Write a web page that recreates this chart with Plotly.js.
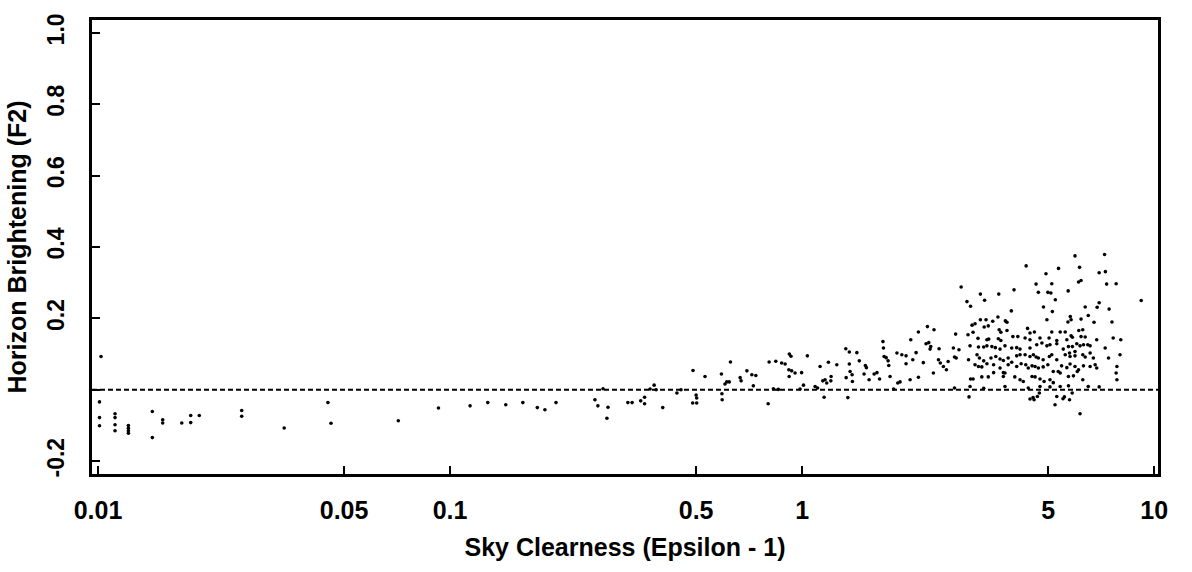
<!DOCTYPE html>
<html><head><meta charset="utf-8">
<script src="https://cdn.plot.ly/plotly-3.0.1.min.js"></script>
<style>html,body{margin:0;padding:0;background:#fff}#chart{width:1192px;height:572px}</style>
</head><body><div id="chart"></div>
<script>
// Axis ticks
const xTickVals = [0.01, 0.05, 0.1, 0.5, 1, 5, 10];
const xTickText = ["0.01", "0.05", "0.1", "0.5", "1", "5", "10"];
const yTickVals = [-0.2, 0, 0.2, 0.4, 0.6, 0.8, 1.0];
const yTickText = ["-0.2", "", "0.2", "0.4", "0.6", "0.8", "1.0"];
const referenceLevel = 0;

// Very turbid skies (epsilon-1 < 0.1)
const lowX = [0.0102,0.0101,0.0101,0.0101, 0.01118,0.01118,0.01118,0.01118, 0.0122,0.0122,0.0122,0.0122, 0.01427,0.01427, 0.01527,0.01527, 0.0173, 0.01834,0.01834, 0.0194, 0.0256,0.0256, 0.0338, 0.045, 0.0459, 0.0713, 0.0927];
const lowY = [0.093,-0.034,-0.078,-0.101, -0.067,-0.078,-0.098,-0.115, -0.100,-0.108,-0.115,-0.122, -0.061,-0.134, -0.084,-0.093, -0.093, -0.072,-0.092, -0.072, -0.058,-0.074, -0.107, -0.036, -0.094, -0.087, -0.051];

// 0.1 .. 1
const midX = [0.114,0.128,0.144,0.161,0.177,0.186,0.200,0.258,0.263,
  0.272,0.281,0.279,0.320,0.329,0.348,0.357,0.357,0.380,0.370,0.385,0.402,0.441,0.453,0.490,0.500,0.502,0.489,0.502,0.530,0.590,0.592,0.593,0.604,0.611,0.626,0.621,0.667,0.671,0.697,0.720,0.739,0.727,0.801,0.806,0.842,0.875,0.895,0.920,0.930,0.917,0.934,0.955,0.919,0.829,0.856,0.987];
const midY = [-0.045,-0.036,-0.042,-0.036,-0.050,-0.056,-0.036,-0.028,-0.045,
  0.003,-0.049,-0.080,-0.036,-0.036,-0.031,-0.039,-0.021,0.013,0.002,0.000,-0.050,-0.009,0.000,0.054,-0.015,-0.023,-0.037,-0.037,0.037,0.044,-0.011,-0.028,0.016,0.022,0.078,0.022,0.034,0.025,0.053,0.042,0.040,0.011,-0.039,0.078,0.080,0.075,0.072,0.100,0.094,0.056,0.053,0.047,0.037,0.003,0.001,0.002];

// 1 .. 2.7
const brightX = [0.997,1.009,1.035,1.089,1.107,1.125,1.155,1.145,1.162,1.175,1.209,1.207,1.188,1.255,1.331,1.362,1.334,1.349,1.362,1.369,1.387,1.390,1.431,1.454,1.513,1.523,1.500,1.550,1.602,1.632,1.660,1.697,1.703,1.710,1.733,1.755,1.763,1.778,1.82,1.86,1.92,1.974,1.87,1.898,1.974,2.027,2.036,2.063,2.108,2.14,2.14,2.21,2.25,2.29,2.32,2.31,2.27,2.37,2.36,2.44,2.47,2.52,2.57,2.45,2.60];
const brightY = [0.048,0.013,0.095,0.009,0.005,0.065,-0.021,0.025,0.028,0.019,0.037,0.025,0.077,0.070,0.115,0.106,0.034,-0.022,0.072,0.051,0.042,0.023,0.104,0.081,0.068,0.062,0.044,0.028,0.044,0.048,0.030,0.135,0.117,0.093,0.090,0.081,0.068,0.037,0.002,0.103,0.098,0.095,0.019,0.022,0.073,0.028,0.140,0.084,0.104,0.162,0.035,0.076,0.129,0.132,0.121,0.114,0.177,0.168,0.047,0.084,0.075,0.065,0.056,0.115,0.079];

// Clear skies (epsilon-1 > 2.7), upper part
const clearTopX = [5.96,7.23,4.33,6.14,5.35,4.93,6.98,7.27,6.10,6.20,4.62,5.12,7.33,7.80,2.83,5.70,4.00,4.69,4.99,5.09,3.21,3.62,5.24,9.19,2.94,3.30,6.98,6.89,3.01,4.85,6.37,5.78,3.93,7.45,5.14,3.21,3.33,3.48,3.60,3.78,3.82,4.96,5.69,5.81,6.20,6.50,6.75,7.59,3.04,3.10,3.29,3.38,2.73,2.96,3.06,3.63,3.67,4.37,4.44,4.57,3.82,5.12,5.41,5.59,5.81,6.11,6.27];
const clearTopY = [0.375,0.379,0.347,0.343,0.340,0.325,0.328,0.331,0.302,0.306,0.296,0.297,0.296,0.297,0.288,0.277,0.280,0.273,0.273,0.271,0.268,0.268,0.252,0.250,0.247,0.251,0.244,0.231,0.234,0.232,0.232,0.205,0.221,0.226,0.219,0.196,0.196,0.192,0.204,0.193,0.189,0.196,0.190,0.196,0.198,0.208,0.189,0.190,0.181,0.185,0.176,0.179,0.156,0.154,0.161,0.168,0.161,0.172,0.159,0.162,0.166,0.162,0.162,0.162,0.151,0.166,0.168];

// Clear skies, dense band
const clearMidX = [3.16,3.35,3.39,3.61,3.67,3.97,4.10,4.30,4.44,4.74,5.03,5.29,5.65,5.86,6.20,6.37,6.87,7.65,8.04,
  2.69,2.79,3.00,3.17,3.28,3.35,3.46,3.54,3.65,3.77,3.94,4.07,4.16,4.44,4.64,4.80,4.96,5.06,5.29,5.52,5.71,5.86,6.03,6.16,6.30,6.48,6.58,7.26,5.96,
  2.71,2.74,2.97,3.14,3.19,3.28,3.44,3.55,3.65,3.73,3.85,4.07,4.16,4.30,4.44,4.54,4.62,4.69,4.84,5.04,5.12,5.29,5.59,5.75,5.77,5.96,6.27,6.37,6.58,6.72,7.42,8.00];
const clearMidY = [0.144,0.140,0.142,0.143,0.138,0.149,0.149,0.145,0.140,0.145,0.145,0.138,0.140,0.147,0.149,0.148,0.140,0.145,0.140,
  0.117,0.112,0.123,0.120,0.120,0.123,0.121,0.118,0.114,0.123,0.117,0.118,0.114,0.117,0.126,0.131,0.123,0.126,0.129,0.114,0.121,0.121,0.129,0.123,0.126,0.126,0.123,0.117,0.107,
  0.092,0.089,0.084,0.098,0.089,0.081,0.089,0.093,0.086,0.082,0.089,0.095,0.098,0.098,0.093,0.098,0.092,0.089,0.084,0.093,0.098,0.084,0.098,0.103,0.093,0.095,0.098,0.092,0.103,0.089,0.089,0.098];

// Clear skies, low band
const clearLowX = [3.10,3.17,3.24,3.35,3.50,3.65,3.73,3.85,3.94,4.07,4.19,4.32,4.39,4.50,4.59,4.69,4.84,4.99,5.17,5.34,5.46,5.65,5.77,5.96,6.10,6.30,6.58,6.80,6.87,7.84,
  3.01,3.06,3.24,3.38,3.50,3.73,3.77,4.02,4.16,4.25,4.50,4.59,4.74,4.87,5.06,5.17,5.41,5.71,5.90,6.05,6.27,7.80,7.84,
  2.71,3.00,3.28,3.77,4.39,4.74,5.06,5.41,5.71,6.50,6.98,
  2.98,4.44,4.56,4.66,4.72,5.29,5.56,5.75,5.23,6.16,4.53,5.51,5.85];
const clearLowY = [0.070,0.065,0.064,0.073,0.070,0.061,0.048,0.070,0.077,0.065,0.073,0.070,0.061,0.067,0.065,0.061,0.064,0.070,0.051,0.051,0.067,0.062,0.072,0.065,0.056,0.067,0.065,0.070,0.061,0.065,
  0.030,0.030,0.036,0.036,0.048,0.037,0.047,0.036,0.028,0.023,0.037,0.036,0.030,0.023,0.028,0.020,0.047,0.037,0.039,0.051,0.028,0.047,0.028,
  0.005,0.009,0.004,0.009,0.005,0.009,0.008,0.009,0.011,0.009,0.008,
  -0.020,-0.026,-0.028,-0.019,-0.009,-0.019,-0.020,-0.028,-0.042,-0.067,-0.022,-0.025,-0.009];

const groups = [[lowX, lowY], [midX, midY], [brightX, brightY], [clearTopX, clearTopY], [clearMidX, clearMidY], [clearLowX, clearLowY]];

const FONT = "Liberation Sans, Arial, Helvetica, sans-serif";
const traces = groups.map(g => ({
  x: g[0], y: g[1], type: 'scatter', mode: 'markers',
  marker: {color: '#000', size: 3.6},
  hoverinfo: 'x+y', showlegend: false
}));

const layout = {
  width: 1192, height: 572,
  margin: {l: 92, r: 34, t: 20, b: 98},
  paper_bgcolor: '#fff', plot_bgcolor: '#fff',
  showlegend: false,
  font: {family: FONT, color: '#000'},
  xaxis: {
    type: 'log', range: [-2.017, 1.011],
    tickmode: 'array', tickvals: xTickVals, ticktext: xTickText,
    ticks: 'inside', ticklen: 8, tickwidth: 2, tickcolor: '#000',
    ticklabelstandoff: 12,
    tickfont: {family: FONT, size: 25, weight: 'bold', color: '#000'},
    showline: true, linewidth: 3, linecolor: '#000', mirror: true,
    showgrid: false, zeroline: false,
    title: {text: 'Sky Clearness (Epsilon - 1)', font: {family: FONT, size: 25, weight: 'bold', color: '#000'}, standoff: 16}
  },
  yaxis: {
    range: [-0.236, 1.036],
    tickmode: 'array', tickvals: yTickVals, ticktext: yTickText,
    tickangle: -90,
    ticks: 'inside', ticklen: 8, tickwidth: 2, tickcolor: '#000',
    ticklabelstandoff: 16,
    tickfont: {family: FONT, size: 23, weight: 'bold', color: '#000'},
    showline: true, linewidth: 3, linecolor: '#000', mirror: true,
    showgrid: false, zeroline: false,
    title: {text: 'Horizon Brightening (F2)', font: {family: FONT, size: 25, weight: 'bold', color: '#000'}, standoff: 10}
  },
  shapes: [{
    type: 'line', xref: 'paper', x0: 0, x1: 1, yref: 'y', y0: referenceLevel, y1: referenceLevel,
    line: {color: '#000', width: 2.2, dash: '5px,3px'}
  }]
};

Plotly.newPlot('chart', traces, layout, {displayModeBar: false, staticPlot: true});
</script>
</body></html>
